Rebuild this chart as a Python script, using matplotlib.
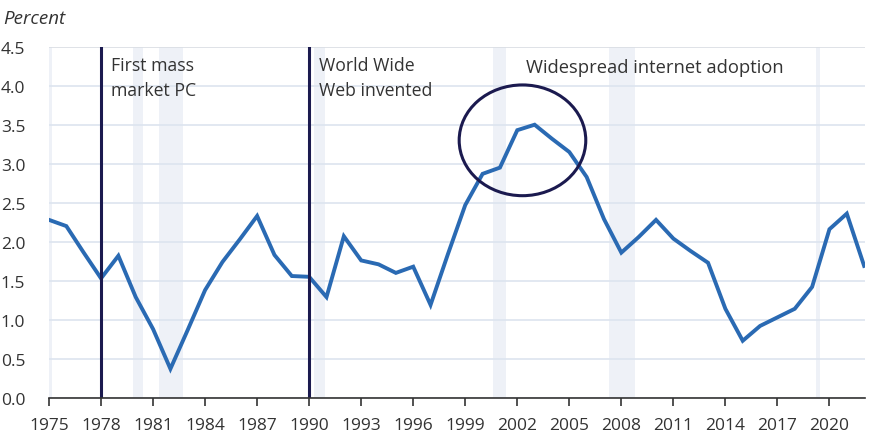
import matplotlib.pyplot as plt
from matplotlib.patches import Ellipse

plt.rcParams['font.family'] = ['Open Sans', 'DejaVu Sans']

# annual growth, percent
years = list(range(1975, 2023))
growth = [2.28, 2.20, 1.86, 1.53, 1.82, 1.29, 0.88, 0.37, 0.87, 1.38,
          1.74, 2.03, 2.33, 1.83, 1.56, 1.55, 1.29, 2.07, 1.76, 1.71,
          1.60, 1.68, 1.19, 1.84, 2.47, 2.87, 2.95, 3.43, 3.50, 3.32,
          3.15, 2.83, 2.29, 1.86, 2.06, 2.28, 2.04, 1.88, 1.73, 1.14,
          0.73, 0.92, 1.03, 1.14, 1.42, 2.16, 2.36, 1.69]

# shaded periods (start, end)
recessions = [(1975.0, 1975.2), (1979.85, 1980.4), (1981.35, 1982.7),
              (1990.3, 1990.9), (2000.6, 2001.35), (2007.3, 2008.8),
              (2019.2, 2019.45)]

events = [(1978, 'First mass\nmarket PC'), (1990, 'World Wide\nWeb invented')]
xticks = list(range(1975, 2021, 3))
yticks = [0.0, 0.5, 1.0, 1.5, 2.0, 2.5, 3.0, 3.5, 4.0, 4.5]

blue = '#2a6ab3'
navy = '#1b1a4f'
grid = '#dde4ef'

fig = plt.figure(figsize=(8.69, 4.39), dpi=100)
ax = fig.add_axes([0.0564, 0.0918, 0.939, 0.7995])

for a, b in recessions:
    ax.axvspan(a, b, color='#eef1f7', lw=0, zorder=0)

for y in yticks:
    ax.axhline(y, color='#d9dde3' if y == 4.5 else grid, lw=1.2, zorder=1)

ax.plot(years, growth, color=blue, lw=2.8, zorder=3, solid_joinstyle='miter')

for yr, label in events:
    ax.axvline(yr, color=navy, lw=2.2, zorder=4)
    ax.text(yr + 0.55, 4.38, label, fontsize=12.7, color='#333333',
            va='top', ha='left', linespacing=1.5)

ax.text(2002.5, 4.24, 'Widespread internet adoption', fontsize=13.2,
        color='#333333', va='center', ha='left')

ax.add_patch(Ellipse((2002.3, 3.30), 7.3, 1.42, fill=False, ec=navy,
                     lw=2.2, zorder=5))

ax.set_xlim(1975, 2022.05)
ax.set_ylim(0, 4.5)
ax.set_xticks(xticks)
ax.set_yticks(yticks)
ax.set_yticklabels([f'{v:.1f}' for v in yticks])
ax.tick_params(axis='y', length=0, pad=17, labelsize=12.5, labelcolor='#333333')
ax.tick_params(axis='x', length=6, width=1.2, color='#333333', pad=8,
               labelsize=12.5, labelcolor='#333333')
for s in ['left', 'right', 'top']:
    ax.spines[s].set_visible(False)
ax.spines['bottom'].set_color('#333333')
ax.spines['bottom'].set_linewidth(1.2)
ax.spines['bottom'].set_zorder(6)

fig.text(0.004, 0.957, 'Percent', fontsize=13.5, style='italic',
         color='#333333', va='center', ha='left')

fig.savefig('out.png', dpi=100)
